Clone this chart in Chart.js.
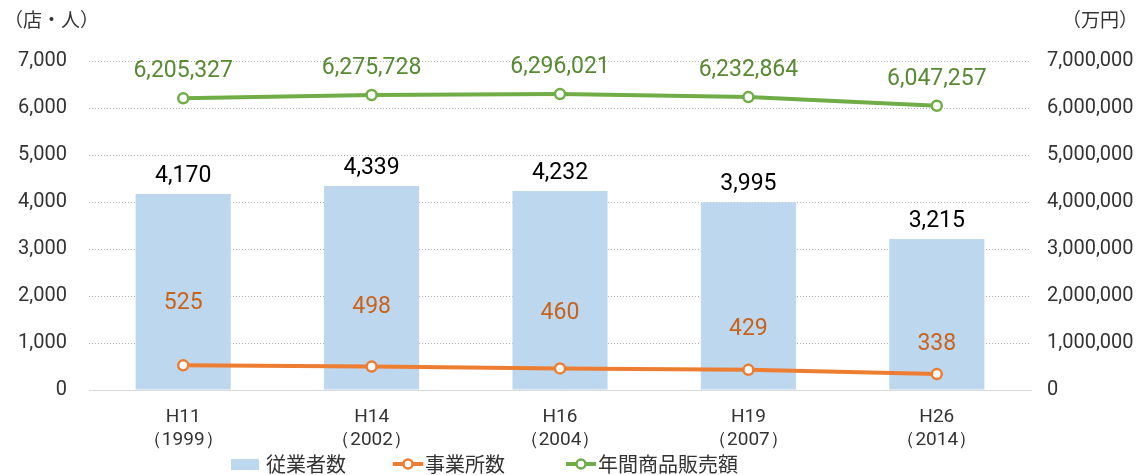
<!DOCTYPE html>
<html>
<head>
<meta charset="utf-8">
<script src="https://cdn.jsdelivr.net/npm/chart.js@4/dist/chart.umd.min.js"></script>
<style>
  html, body { margin: 0; padding: 0; background: #fff; }
  #wrap { position: relative; width: 1142px; height: 475px; }
</style>
</head>
<body>
<div id="wrap"><canvas id="salesChart" width="1142" height="475"></canvas></div>
<script>
document.addEventListener('DOMContentLoaded', function() {
    "use strict";

    const years = [['H11', '（1999）'], ['H14', '（2002）'], ['H16', '（2004）'], ['H19', '（2007）'], ['H26', '（2014）']];
    const employees = [4170, 4339, 4232, 3995, 3215];
    const offices = [525, 498, 460, 429, 338];
    const annualSales = [6205327, 6275728, 6296021, 6232864, 6047257];
    const leftTicks = [0, 1000, 2000, 3000, 4000, 5000, 6000, 7000];

    const FONT = '"Roboto", sans-serif';
    const JP = '"Noto Sans CJK JP", sans-serif';
    const fmt = v => Number(v).toLocaleString('en-US');

    // hand-placed offsets for the orange labels, as in the original
    const officeLabelLift = [62, 59, 55, 41, 30];

    const labelPlugin = {
        id: 'valueLabels',
        afterDatasetsDraw(chart) {
            const ctx = chart.ctx;
            ctx.save();
            ctx.textAlign = 'center';
            ctx.textBaseline = 'middle';
            ctx.font = '23px ' + FONT;

            chart.getDatasetMeta(0).data.forEach((bar, i) => {
                ctx.fillStyle = '#000';
                ctx.fillText(fmt(employees[i]), bar.x, bar.y - 18);
            });
            chart.getDatasetMeta(1).data.forEach((pt, i) => {
                ctx.fillStyle = '#c9631c';
                ctx.fillText(fmt(offices[i]), pt.x, pt.y - officeLabelLift[i]);
            });
            chart.getDatasetMeta(2).data.forEach((pt, i) => {
                ctx.fillStyle = '#578a33';
                ctx.fillText(fmt(annualSales[i]), pt.x, pt.y - 27);
            });

            // axis unit titles
            ctx.fillStyle = '#333';
            ctx.font = '19px ' + JP;
            ctx.textAlign = 'left';
            ctx.fillText('（店・人）', 4, 20);
            ctx.fillText('（万円）', 1062, 20);

            // legend
            ctx.font = '20px ' + JP;
            const ly = 464;
            ctx.fillStyle = '#bdd7ee';
            ctx.fillRect(231, ly - 5, 28, 11);
            ctx.fillStyle = '#333';
            ctx.fillText('従業者数', 266, ly);

            const lineKey = (x0, color, text) => {
                ctx.strokeStyle = color;
                ctx.lineWidth = 4;
                ctx.beginPath();
                ctx.moveTo(x0, ly);
                ctx.lineTo(x0 + 30, ly);
                ctx.stroke();
                ctx.beginPath();
                ctx.arc(x0 + 15, ly, 4.5, 0, Math.PI * 2);
                ctx.fillStyle = '#fff';
                ctx.fill();
                ctx.lineWidth = 2.5;
                ctx.stroke();
                ctx.fillStyle = '#333';
                ctx.fillText(text, x0 + 32, ly);
            };
            lineKey(393, '#ed7d31', '事業所数');
            lineKey(566, '#70ad47', '年間商品販売額');
            ctx.restore();
        }
    };

    new Chart(document.getElementById('salesChart'), {
        data: {
            labels: years,
            datasets: [{
                type: 'bar',
                label: '従業者数',
                data: employees,
                backgroundColor: '#bdd7ee',
                categoryPercentage: 1,
                barPercentage: 0.505,
                yAxisID: 'y',
                order: 3
            }, {
                type: 'line',
                label: '事業所数',
                data: offices,
                borderColor: '#ed7d31',
                borderWidth: 4,
                pointRadius: 5,
                pointBorderWidth: 2.5,
                pointBackgroundColor: '#fff',
                pointBorderColor: '#ed7d31',
                tension: 0,
                yAxisID: 'y',
                order: 1
            }, {
                type: 'line',
                label: '年間商品販売額',
                data: annualSales,
                borderColor: '#70ad47',
                borderWidth: 4,
                pointRadius: 5,
                pointBorderWidth: 2.5,
                pointBackgroundColor: '#fff',
                pointBorderColor: '#70ad47',
                tension: 0,
                yAxisID: 'y1',
                order: 2
            }]
        },
        options: {
            responsive: false,
            animation: false,
            layout: { padding: { top: 61, left: 0, right: 0, bottom: 0 } },
            plugins: {
                legend: { display: false },
                tooltip: { enabled: false }
            },
            scales: {
                x: {
                    grid: { display: false },
                    border: { color: '#d9d9d9', width: 1 },
                    ticks: { color: '#333', font: { family: FONT, size: 19, lineHeight: 1.2 }, padding: 8 },
                    afterFit(s) { s.height = 85; }
                },
                y: {
                    position: 'left',
                    min: 0,
                    max: 7000,
                    afterBuildTicks(s) { s.ticks = leftTicks.map(v => ({ value: v })); },
                    grid: { color: '#b0b0b0', drawTicks: false },
                    border: { display: false, dash: [1, 2] },
                    ticks: {
                        color: '#333',
                        font: { family: FONT, size: 20 },
                        padding: 22,
                        callback: v => fmt(v)
                    },
                    afterFit(s) { s.width = 89; }
                },
                y1: {
                    position: 'right',
                    min: 0,
                    max: 7000000,
                    grid: { display: false },
                    border: { display: false },
                    ticks: {
                        stepSize: 1000000,
                        color: '#333',
                        font: { family: FONT, size: 20 },
                        padding: 8,
                        callback: v => fmt(v)
                    },
                    afterFit(s) { s.width = 111; }
                }
            }
        },
        plugins: [labelPlugin]
    });
});
</script>
</body>
</html>
